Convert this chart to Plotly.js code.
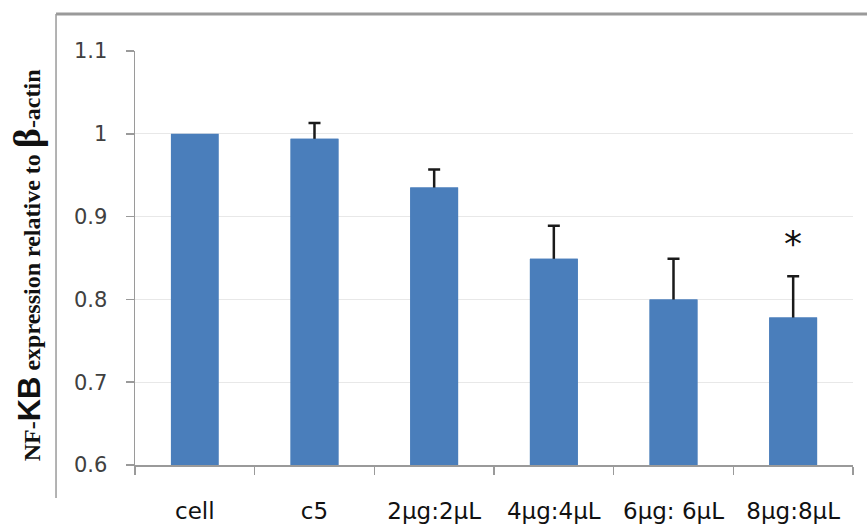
<!DOCTYPE html>
<html>
<head>
<meta charset="utf-8">
<script src="https://cdn.plot.ly/plotly-3.0.1.min.js"></script>
<style>html,body{margin:0;padding:0;background:#fff;}#chart{width:867px;height:526px;}</style>
</head>
<body>
<div id="chart"></div>
<script>
const categories = ["cell", "c5", "2μg:2μL", "4μg:4μL", "6μg: 6μL", "8μg:8μL"];
const values = [1.0, 0.994, 0.935, 0.849, 0.800, 0.778];
const errorsPlus = [null, 0.019, 0.022, 0.040, 0.049, 0.050];
const yTicks = [0.6, 0.7, 0.8, 0.9, 1.0, 1.1];
const yTickLabels = ["0.6", "0.7", "0.8", "0.9", "1", "1.1"];
const starCategory = "8μg:8μL";
const starValue = 0.868;
const yTitle = "NF-<span style=\"font-family:'Liberation Sans',sans-serif;font-size:31px\">KB</span> expression relative to <span style=\"font-size:38px\">β</span>-actin";

const barColor = "#4a7ebb";

// only categories that have an error bar
const errIdx = errorsPlus.map(function(e, i){ return e === null ? -1 : i; }).filter(function(i){ return i >= 0; });

// Trace with the error bars (lower half hidden by the overlaid copy)
const errTrace = {
  type: "bar",
  x: errIdx.map(function(i){ return categories[i]; }),
  y: errIdx.map(function(i){ return values[i]; }),
  width: 0.4,
  marker: {color: barColor},
  error_y: {
    type: "data",
    symmetric: false,
    array: errIdx.map(function(i){ return errorsPlus[i]; }),
    arrayminus: errIdx.map(function(){ return 0.02; }),
    color: "#1a1a1a",
    thickness: 2.5,
    width: 6
  },
  hoverinfo: "none"
};
const barTrace = {
  type: "bar",
  x: categories,
  y: values,
  width: 0.4,
  marker: {color: barColor},
  hoverinfo: "none"
};

const layout = {
  width: 867,
  height: 526,
  margin: {l: 135, r: 14, t: 51, b: 61},
  paper_bgcolor: "#ffffff",
  plot_bgcolor: "#ffffff",
  showlegend: false,
  barmode: "overlay",
  font: {family: "'DejaVu Sans', sans-serif", color: "#404040"},
  xaxis: {
    type: "category",
    categoryorder: "array",
    categoryarray: categories,
    tickson: "boundaries",
    ticks: "outside",
    ticklen: 8,
    tickcolor: "#9a9a9a",
    tickwidth: 1.5,
    showline: true,
    linecolor: "#9a9a9a",
    linewidth: 1.5,
    showgrid: false,
    zeroline: false,
    ticklabelstandoff: 25,
    tickfont: {size: 23, color: "#111111", family: "'DejaVu Sans', sans-serif"}
  },
  yaxis: {
    range: [0.6, 1.1],
    tickvals: yTicks,
    ticktext: yTickLabels,
    ticks: "outside",
    ticklen: 8,
    tickcolor: "#9a9a9a",
    tickwidth: 1.5,
    showline: true,
    linecolor: "#9a9a9a",
    linewidth: 1.5,
    showgrid: true,
    gridcolor: "#e8e8e8",
    gridwidth: 1,
    zeroline: false,
    tickfont: {size: 21, color: "#404040", family: "'DejaVu Sans', sans-serif"},
    ticklabelstandoff: 14
  },
  shapes: [
    {type: "line", xref: "paper", yref: "paper", x0: -0.11, x1: 1.05, y0: 1.0894, y1: 1.0894,
     line: {color: "#9a9a9a", width: 3}},
    {type: "line", xref: "paper", yref: "paper", x0: -0.11, x1: -0.11, y0: 1.0894, y1: -0.0797,
     line: {color: "#9a9a9a", width: 1.5}}
  ],
  annotations: [
    {x: starCategory, y: starValue, xref: "x", yref: "y", text: "*", showarrow: false,
     font: {size: 36, color: "#111111", family: "'DejaVu Sans', sans-serif"}},
    {x: -0.150, y: 0.483, xref: "paper", yref: "paper", xanchor: "center", yanchor: "middle",
     textangle: -90, showarrow: false, text: yTitle,
     font: {family: "'Liberation Serif', 'DejaVu Serif', serif", size: 24, color: "#111111", weight: "bold"}}
  ]
};

Plotly.newPlot("chart", [errTrace, barTrace], layout, {displayModeBar: false, staticPlot: true});
</script>
</body>
</html>
